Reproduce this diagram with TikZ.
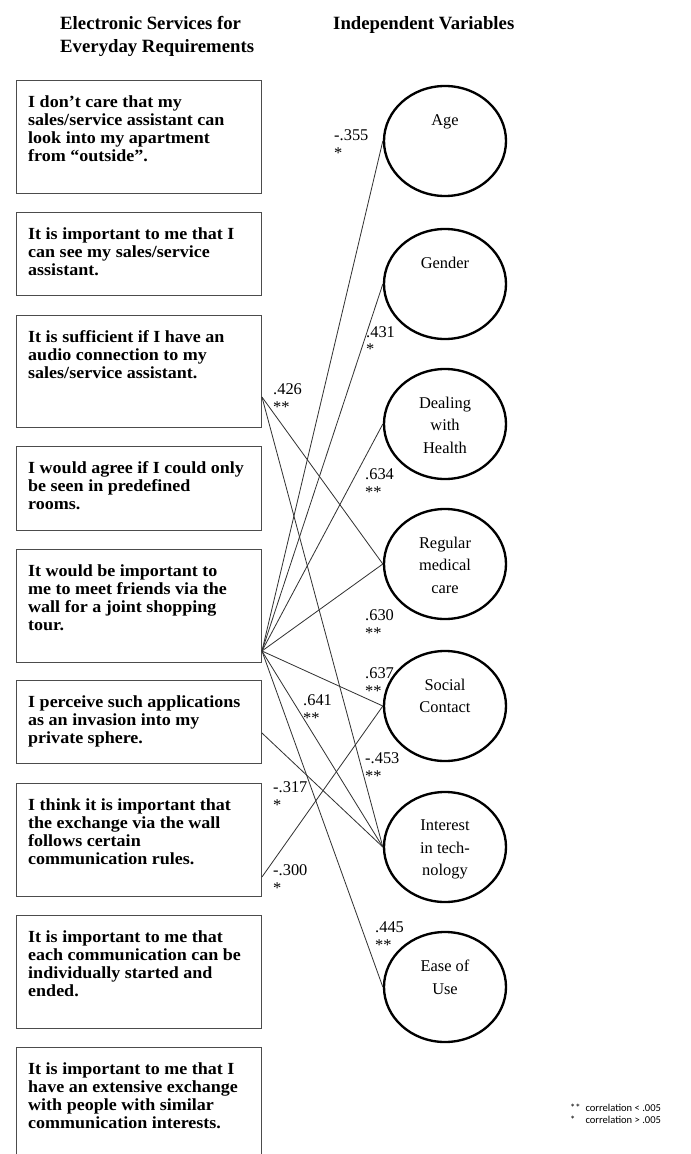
\documentclass[tikz,border=0pt]{standalone}
\usepackage{fontspec}
\setmainfont{Liberation Serif}
\newfontfamily\svcfont{Liberation Serif}[FakeStretch=1.06]
\newfontfamily\notefont{Carlito}
\usetikzlibrary{shapes.geometric}
\usetikzlibrary{calc}

\begin{document}
\begin{tikzpicture}[x=0.03cm, y=-0.03cm,
	svcbox/.style={draw=black!70, line width=0.8pt, anchor=north west, minimum width=7.35cm, inner sep=0pt},
	svctext/.style={anchor=north west, align=left, inner sep=0pt, font=\svcfont\bfseries\fontsize{14.5}{15.6}\selectfont},
	varell/.style={ellipse, draw, line width=2pt, minimum width=3.66cm, minimum height=3.3cm, inner sep=0pt},
	vartext/.style={anchor=north, align=center, inner sep=0pt, font=\fontsize{14}{19}\selectfont},
	corr/.style={anchor=north west, align=left, inner sep=0pt, font=\fontsize{14}{15}\selectfont},
	head/.style={anchor=north west, align=left, inner sep=0pt, font=\bfseries\fontsize{16}{19.5}\selectfont},
	link/.style={draw=black!80, line width=0.7pt}]
	\useasboundingbox (0,0) rectangle (690,1154);

	% headings
	\node[head] (lefthead) at (60,16) {Electronic Services for\\Everyday Requirements};
	\node[head] (righthead) at (333,16) {Independent Variables};

	% statements
	\node[svcbox, minimum height=3.39cm] (s1) at (16,80) {};
	\node[svcbox, minimum height=2.49cm] (s2) at (16,212) {};
	\node[svcbox, minimum height=3.36cm] (s3) at (16,315) {};
	\node[svcbox, minimum height=2.52cm] (s4) at (16,446) {};
	\node[svcbox, minimum height=3.39cm] (s5) at (16,549) {};
	\node[svcbox, minimum height=2.49cm] (s6) at (16,680) {};
	\node[svcbox, minimum height=3.39cm] (s7) at (16,783) {};
	\node[svcbox, minimum height=3.39cm] (s8) at (16,915) {};
	\node[svcbox, minimum height=3.45cm] (s9) at (16,1047) {};

	\node[svctext] (s1t) at (28,95) {I don’t care that my\\sales/service assistant can\\look into my apartment\\from “outside”.};
	\node[svctext] (s2t) at (28,227) {It is important to me that I\\can see my sales/service\\assistant.};
	\node[svctext] (s3t) at (28,330) {It is sufficient if I have an\\audio connection to my\\sales/service assistant.};
	\node[svctext] (s4t) at (28,461) {I would agree if I could only\\be seen in predefined\\rooms.};
	\node[svctext] (s5t) at (28,564) {It would be important to\\me to meet friends via the\\wall for a joint shopping\\tour.};
	\node[svctext] (s6t) at (28,695) {I perceive such applications\\as an invasion into my\\private sphere.};
	\node[svctext] (s7t) at (28,798) {I think it is important that\\the exchange via the wall\\follows certain\\communication rules.};
	\node[svctext] (s8t) at (28,930) {It is important to me that\\each communication can be\\individually started and\\ended.};
	\node[svctext] (s9t) at (28,1062) {It is important to me that I\\have an extensive exchange\\with people with similar\\communication interests.};

	% variables
	\node[varell] (age) at (445,141) {};
	\node[varell] (gender) at (445,284) {};
	\node[varell] (health) at (445,424) {};
	\node[varell] (care) at (445,564) {};
	\node[varell] (social) at (445,706) {};
	\node[varell] (tech) at (445,847) {};
	\node[varell] (ease) at (445,987) {};

	\node[vartext] (aget) at (445,114) {Age};
	\node[vartext] (gendert) at (445,257) {Gender};
	\node[vartext] (healtht) at (445,397) {Dealing\\with\\Health};
	\node[vartext] (caret) at (445,537) {Regular\\medical\\care};
	\node[vartext] (socialt) at (445,679) {Social\\Contact};
	\node[vartext] (techt) at (445,820) {Interest\\in tech-\\nology};
	\node[vartext] (easet) at (445,960) {Ease of\\Use};

	% start points on the statements
	\coordinate (s3p) at ($(s3.north east)+(0,82)$);
	\coordinate (s5p) at ($(s5.north east)+(0,102)$);
	\coordinate (s6p) at ($(s6.north east)+(0,53)$);
	\coordinate (s7p) at ($(s7.north east)+(0,94)$);

	\draw[link] (s5p) -- (age.west);
	\draw[link] (s5p) -- (gender.west);
	\draw[link] (s5p) -- (health.west);
	\draw[link] (s5p) -- (care.west);
	\draw[link] (s5p) -- (social.west);
	\draw[link] (s5p) -- (tech.west);
	\draw[link] (s5p) -- (ease.west);
	\draw[link] (s3p) -- (care.west);
	\draw[link] (s3p) -- (tech.west);
	\draw[link] (s6p) -- (tech.west);
	\draw[link] (s7p) -- (social.west);

	% correlations
	\node[corr] (c1) at (334,129.5) {-.355\\{*}};
	\node[corr] (c2) at (366,326) {.431\\{*}};
	\node[corr] (c3) at (273,383.5) {.426\\{**}};
	\node[corr] (c4) at (365,468.5) {.634\\{**}};
	\node[corr] (c5) at (365,609.5) {.630\\{**}};
	\node[corr] (c6) at (365,667.5) {.637\\{**}};
	\node[corr] (c7) at (303,694.5) {.641\\{**}};
	\node[corr] (c8) at (365,752.5) {-.453\\{**}};
	\node[corr] (c9) at (273,781.5) {-.317\\{*}};
	\node[corr] (c10) at (273,864.5) {-.300\\{*}};
	\node[corr] (c11) at (375,921.5) {.445\\{**}};

	\node[anchor=north west, inner sep=0pt, font=\notefont\fontsize{9}{10.2}\selectfont] (note) at (570,1103) {\begin{tabular}{@{}l@{\ \ }l@{}}** & correlation < .005\\{*} & correlation > .005\end{tabular}};
\end{tikzpicture}
\end{document}
